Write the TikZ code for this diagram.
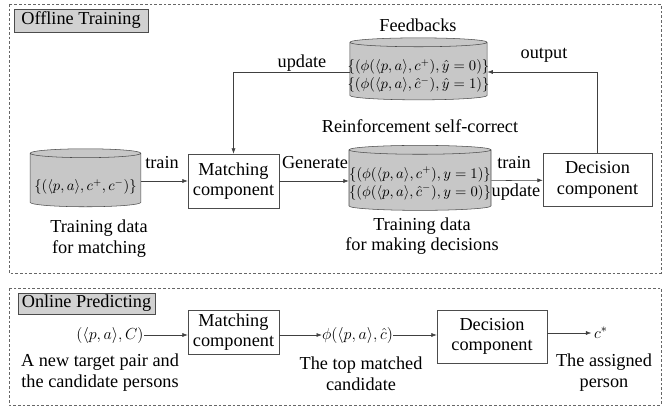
\documentclass[tikz,border=0pt]{standalone}
\usepackage{amsmath,amssymb}
\usepackage{fontspec}
\setmainfont{Liberation Serif}
\usetikzlibrary{shapes.geometric,arrows.meta}

\begin{document}
\begin{tikzpicture}[x=0.75pt,y=-0.75pt]
      \useasboundingbox(0,0) rectangle (672,410);
      \tikzset{B/.style = {shape=rectangle, draw=black!70, align=center, inner sep=0pt, font=\fontsize{13.7}{15.5}\selectfont}}
      \tikzset{D/.style = {cylinder, shape border rotate=90, draw=black!70, fill=black!22, aspect=1}}
      \tikzset{T/.style = {align=center, inner sep=0pt, font=\fontsize{13.7}{15.5}\selectfont}}
      \tikzset{P/.style = {inner sep=0pt, font=\fontsize{12.5}{14}\selectfont}}
      \tikzset{M/.style = {align=center, inner sep=0pt, font=\fontsize{10.5}{13.5}\selectfont}}
      \tikzset{L/.style = {draw=black!70, fill=black!18, inner sep=0pt, font=\fontsize{13.7}{15.5}\selectfont}}
      \tikzset{E/.style = {draw=black!75, -{Latex[length=4pt,width=3pt]}}}
      \tikzset{F/.style = {draw=black!60, dash pattern=on 2pt off 1.5pt}}
      % frames
      \draw[F](9,4) rectangle (661,273);
      \draw[F](9,288) rectangle (661,405);
      \node[L,minimum width=100.5pt,minimum height=17pt](off) at (81,20.5) {Offline Training};
      \node[L,minimum width=102.75pt,minimum height=15.75pt](on) at (86.5,303.5) {Online Predicting};
      % offline training
      \node[D,minimum width=83pt,minimum height=43.5pt](d0) at (85.5,181) {};
      \node[D,minimum width=103pt,minimum height=46.5pt](fb) at (418.5,72) {};
      \node[D,minimum width=106.5pt,minimum height=48.75pt](d1) at (420,181) {};
      \node[M](d0t) at (85.5,187) {$\{(\langle p,a\rangle,c^{+},c^{-})\}$};
      \node[M](fbt) at (418.5,76) {$\{(\phi(\langle p,a\rangle,c^{+}),\hat{y}=0)\}$\\$\{(\phi(\langle p,a\rangle,\hat{c}^{-}),\hat{y}=1)\}$};
      \node[M](d1t) at (420,183.5) {$\{(\phi(\langle p,a\rangle,c^{+}),y=1)\}$\\$\{(\phi(\langle p,a\rangle,\hat{c}^{-}),y=0)\}$};
      \node[B,minimum width=68.25pt,minimum height=40.5pt](m0) at (233.5,181) {Matching\\component};
      \node[B,minimum width=81.75pt,minimum height=39.75pt](c0) at (597.5,180) {Decision\\component};
      \node[T](fbl) at (418,25) {Feedbacks};
      \node[T](rsc) at (420,126) {Reinforcement self-correct};
      \node[T](d0l) at (99,238.5) {Training data\\for matching};
      \node[T](d1l) at (422,236) {Training data\\for making decisions};
      \node[T](up0) at (302,63) {update};
      \node[T](out) at (544,55) {output};
      \node[T](tr0) at (162,163) {train};
      \node[T](gen) at (315,163) {Generate};
      \node[T](tr1) at (514,163) {train};
      \node[T](up1) at (516,192) {update};
      \draw[E](d0) to (m0);
      \draw[E](m0) to (d1);
      \draw[E](d1) to (c0);
      \draw[E](fb.west) -| (m0.north);
      \draw[E](c0.north) |- (fb.east);
      % online predicting
      \node[P](in) at (110,335) {$(\langle p,a\rangle,C)$};
      \node[B,minimum width=68.25pt,minimum height=33pt](m1) at (233.5,332) {Matching\\component};
      \node[P](phi) at (357.5,335) {$\phi(\langle p,a\rangle,\hat{c})$};
      \node[B,minimum width=82.5pt,minimum height=39.75pt](c1) at (492,336.5) {Decision\\component};
      \node[P](cs) at (601,333) {$c^{*}$};
      \node[T](inl) at (100,372.5) {A new target pair and\\the candidate persons};
      \node[T](phil) at (361,373.5) {The top matched\\candidate};
      \node[T](csl) at (604,372.5) {The assigned\\person};
      \draw[E](in.east) to (in.east -| m1.west);
      \draw[E](m1.east |- phi.west) to (phi.west);
      \draw[E](phi.east) to (phi.east -| c1.west);
      \draw[E](c1.east |- cs.west) to ([xshift=-2pt]cs.west);
\end{tikzpicture}
\end{document}
